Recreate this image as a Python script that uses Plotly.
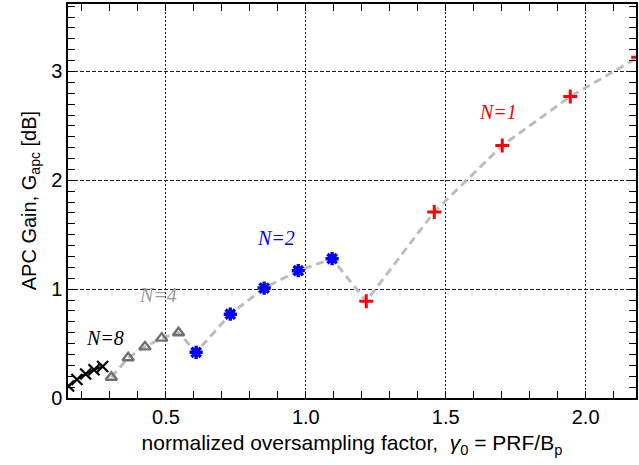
import plotly.graph_objects as go

# N=8 (black x)
g8 = [0.152, 0.182, 0.213, 0.243, 0.274]
v8 = [0.11, 0.17, 0.22, 0.26, 0.29]
# N=4 (gray triangles)
g4 = [0.305, 0.365, 0.425, 0.485, 0.545]
v4 = [0.19, 0.37, 0.47, 0.55, 0.60]
# N=2 (blue asterisks)
g2 = [0.608, 0.730, 0.851, 0.973, 1.094]
v2 = [0.42, 0.77, 1.01, 1.17, 1.28]
# N=1 (red plus)
g1 = [1.216, 1.459, 1.702, 1.945, 2.188]
v1 = [0.89, 1.71, 2.32, 2.77, 3.13]

labels = ["N=8", "N=4", "N=2", "N=1"]
label_x = [0.282, 0.470, 0.894, 1.687]
label_y = [0.554, 0.945, 1.47, 2.63]
label_col = ["black", "#9a9a9a", "blue", "red"]

fig = go.Figure()
fig.add_trace(go.Scatter(x=g4 + g2 + g1, y=v4 + v2 + v1, mode="lines",
                         line=dict(color="#bdbdbd", width=3, dash="8px,5px"),
                         hoverinfo="skip"))
fig.add_trace(go.Scatter(x=g8, y=v8, mode="lines+markers",
                         line=dict(color="black", width=2),
                         marker=dict(symbol="x-thin", size=11, line=dict(color="black", width=2.2))))
fig.add_trace(go.Scatter(x=g4, y=v4, mode="markers",
                         marker=dict(symbol="triangle-up-open", size=10, color="#707070",
                                     line=dict(color="#707070", width=2.4))))
fig.add_trace(go.Scatter(x=g2, y=v2, mode="markers",
                         marker=dict(symbol="asterisk-open", size=11, color="blue",
                                     line=dict(color="blue", width=3.4))))
fig.add_trace(go.Scatter(x=g1, y=v1, mode="markers",
                         marker=dict(symbol="cross-thin", size=10, color="red",
                                     line=dict(color="red", width=3))))

for t, x, y, c in zip(labels, label_x, label_y, label_col):
    fig.add_annotation(x=x, y=y, text="<i>" + t + "</i>", showarrow=False,
                       font=dict(family="Liberation Serif", size=20, color=c))

fig.add_annotation(xref="paper", yref="paper", x=-0.092, y=0.5,
                   text="APC Gain, G<sub>apc</sub> [dB]", textangle=-90, showarrow=False,
                   font=dict(family="Liberation Sans", size=20, color="black"))

axis_common = dict(showline=True, linecolor="black", linewidth=1.5, mirror="ticks",
                   ticks="inside", ticklen=7, tickcolor="black", zeroline=False,
                   tickfont=dict(family="Liberation Sans", size=20, color="black"),
                   gridcolor="#222222", gridwidth=1)

fig.update_xaxes(range=[0.15, 2.18], tickvals=[0.5, 1.0, 1.5, 2.0],
                 ticktext=["0.5", "1.0", "1.5", "2.0"], griddash="2px,2px",
                 minor=dict(dtick=0.1, tick0=0, ticks="inside", ticklen=7, tickcolor="black", showgrid=False),
                 title=dict(text="normalized oversampling factor,  <i>γ</i><sub>0</sub> = PRF/B<sub>p</sub>",
                            font=dict(family="Liberation Sans", size=21, color="black"), standoff=9),
                 **axis_common)
fig.update_yaxes(range=[0, 3.62], tickvals=[0, 1, 2, 3], griddash="4px,2px",
                 minor=dict(dtick=0.1, tick0=0, ticks="inside", ticklen=7, tickcolor="black", showgrid=False),
                 **axis_common)

fig.update_layout(width=639, height=465, margin=dict(l=68, r=1, t=4, b=67),
                  plot_bgcolor="white", paper_bgcolor="white", showlegend=False)

fig.write_html("out.html")
